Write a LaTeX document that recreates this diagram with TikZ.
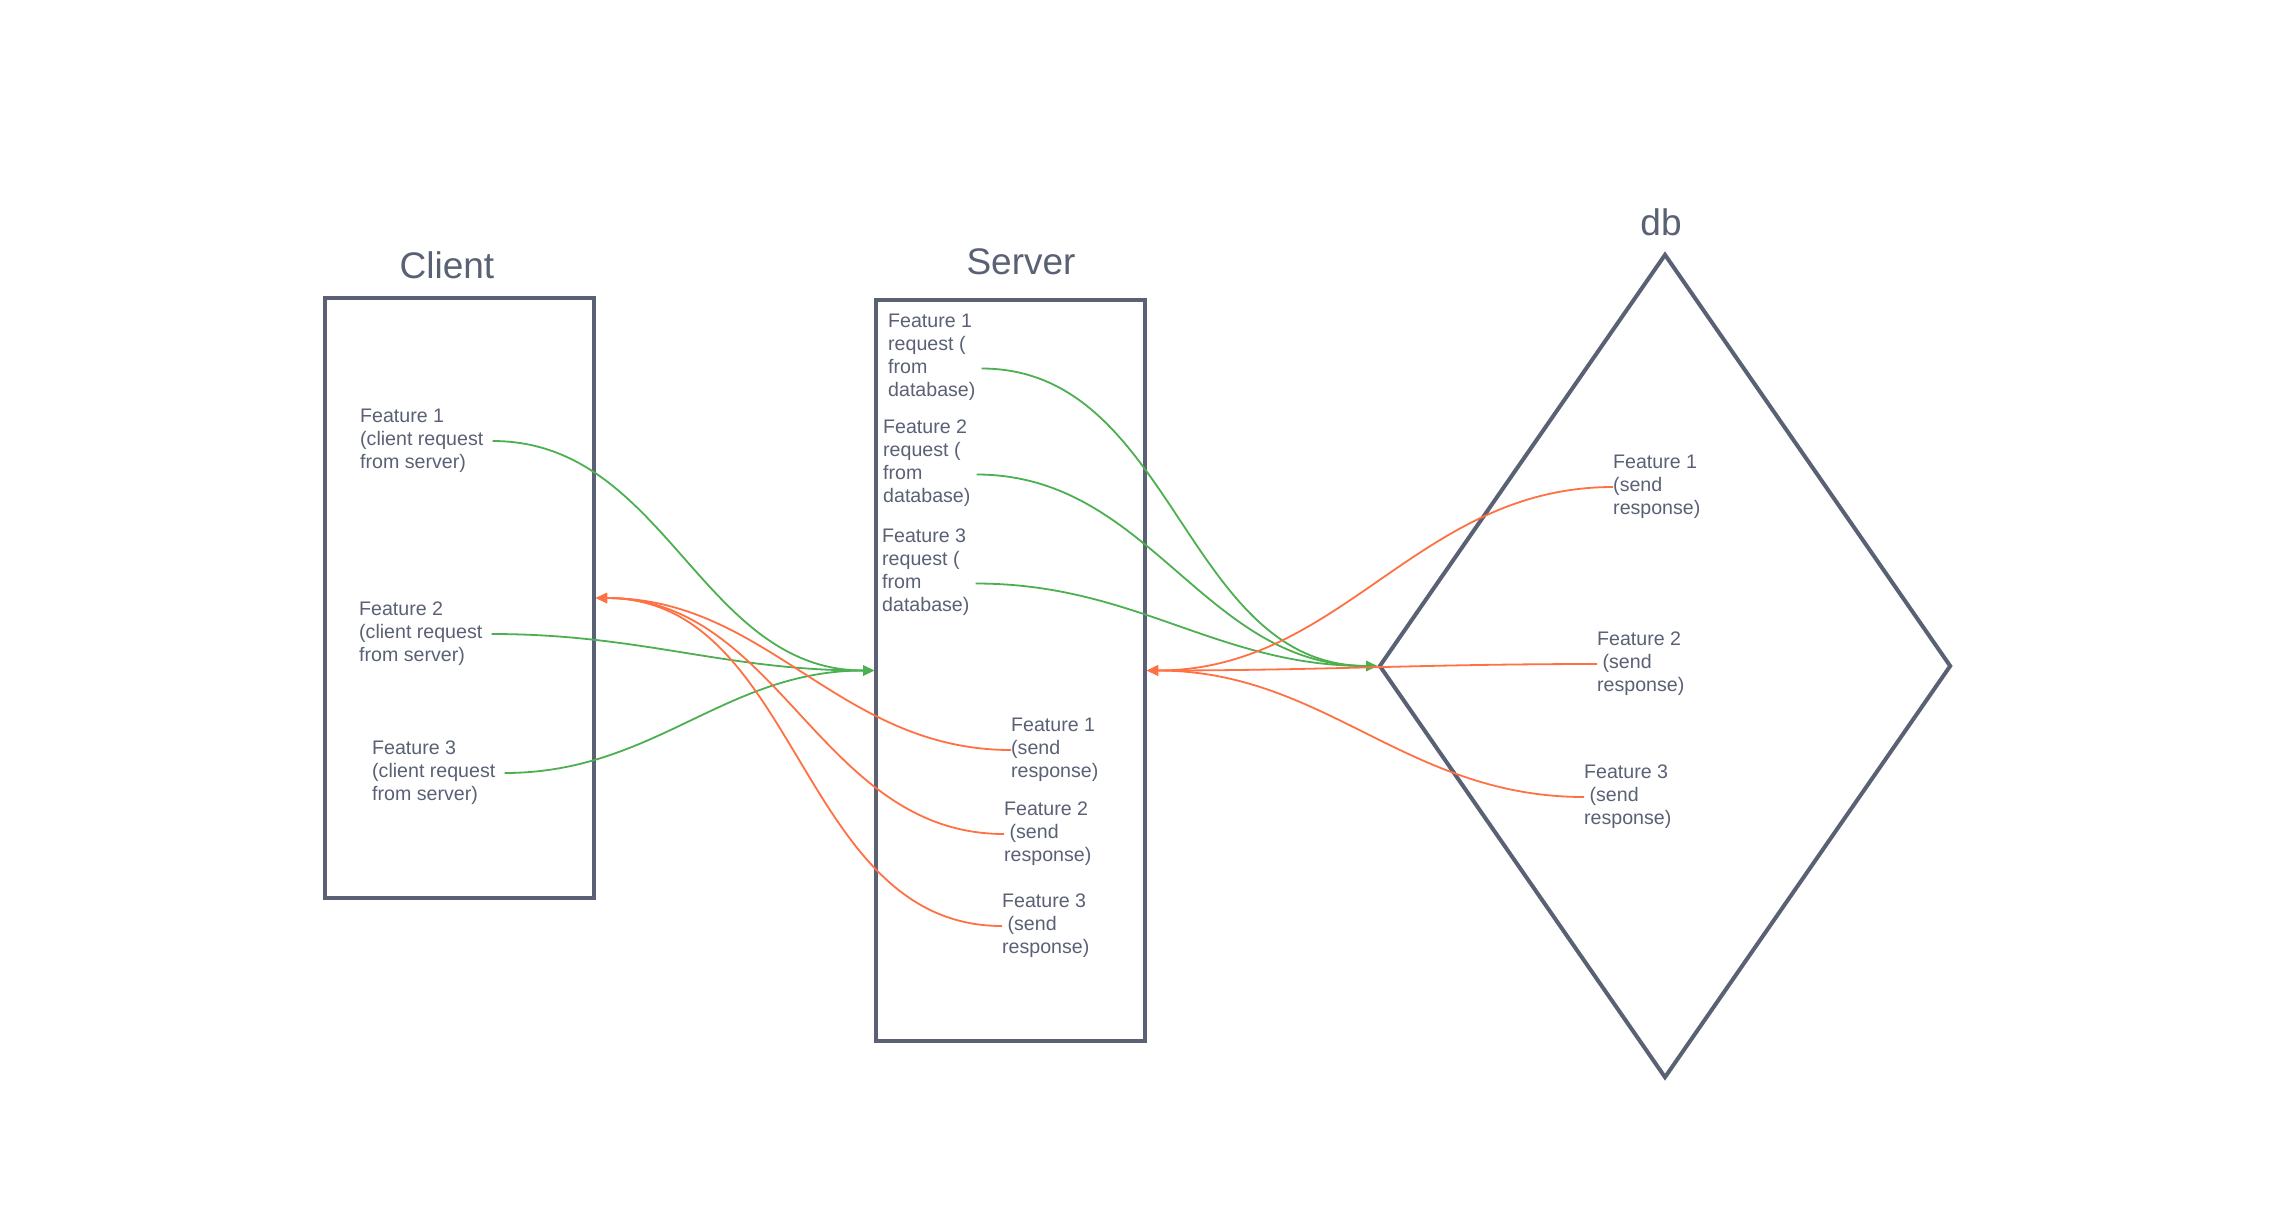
\documentclass[tikz,border=0pt]{standalone}
\usepackage{fontspec}
\setmainfont{Liberation Sans}
\usetikzlibrary{arrows.meta,shapes.geometric}
\definecolor{ink}{RGB}{90,97,117}
\definecolor{grn}{RGB}{76,175,80}
\definecolor{org}{RGB}{255,112,67}
\begin{document}
\begin{tikzpicture}[x=1pt,y=-1pt,
  box/.style={draw=ink,line width=4pt,minimum width=269pt,inner sep=0pt},
  title/.style={text=ink,font=\fontsize{37}{44}\selectfont},
  lbl/.style={text=ink,font=\fontsize{19.6}{23}\selectfont,align=left,anchor=west,inner sep=0pt},
  req/.style={draw=grn,line width=1.8pt,-{Triangle[length=11pt,width=10pt]}},
  rsp/.style={draw=org,line width=1.8pt,-{Triangle[length=11pt,width=10pt]}},
]
\fill[white] (0,0) rectangle (2293,1210);
\useasboundingbox (0,0) rectangle (2293,1210);

% the three tiers
\node[box,minimum height=600pt] (client) at (459.5,598) {};
\node[box,minimum height=741pt] (server) at (1010.5,670.5) {};
\node[draw=ink,line width=4pt,diamond,minimum width=572pt,minimum height=824pt,inner sep=0pt] (db) at (1665,666) {};

\node[title] (clientT) at (447,265) {Client};
\node[title] (serverT) at (1021,262) {Server};
\node[title] (dbT) at (1661,222) {db};

% client requests
\node[lbl] (c1) at (360,441) {Feature 1\\(client request\\from server)};
\node[lbl] (c2) at (359,634) {Feature 2\\(client request\\from server)};
\node[lbl] (c3) at (372,773) {Feature 3\\(client request\\from server)};

% server requests to the database
\node[lbl] (s1) at (888,357) {Feature 1\\request (\\from\\database)};
\node[lbl] (s2) at (883,463) {Feature 2\\request (\\from\\database)};
\node[lbl] (s3) at (882,572) {Feature 3\\request (\\from\\database)};

% server responses
\node[lbl] (r1) at (1011,750) {Feature 1\\(send\\response)};
\node[lbl] (r2) at (1004,834) {Feature 2\\\ (send\\response)};
\node[lbl] (r3) at (1002,926) {Feature 3\\\ (send\\response)};

% database responses
\node[lbl] (d1) at (1613,487) {Feature 1\\(send\\response)};
\node[lbl] (d2) at (1597,664) {Feature 2\\\ (send\\response)};
\node[lbl] (d3) at (1584,797) {Feature 3\\\ (send\\response)};

% client -> server
\draw[req] ([xshift=9pt]c1.east) to[out=0,in=180] (server.west);
\draw[req] ([xshift=9pt]c2.east) to[out=0,in=180] (server.west);
\draw[req] ([xshift=9pt]c3.east) to[out=0,in=180] (server.west);

% server -> client
\draw[rsp] (r1.west) to[out=180,in=0] (client.east);
\draw[rsp] (r2.west) to[out=180,in=0] (client.east);
\draw[rsp] (r3.west) to[out=180,in=0] (client.east);

% server -> db
\draw[req] ([xshift=6pt,yshift=-11.5pt]s1.east) to[out=0,in=180] (db.west);
\draw[req] ([xshift=6pt,yshift=-11.5pt]s2.east) to[out=0,in=180] (db.west);
\draw[req] ([xshift=6pt,yshift=-11.5pt]s3.east) to[out=0,in=180] (db.west);

% db -> server
\draw[rsp] (d1.west) to[out=180,in=0] (server.east);
\draw[rsp] (d2.west) to[out=180,in=0] (server.east);
\draw[rsp] (d3.west) to[out=180,in=0] (server.east);
\end{tikzpicture}
\end{document}
